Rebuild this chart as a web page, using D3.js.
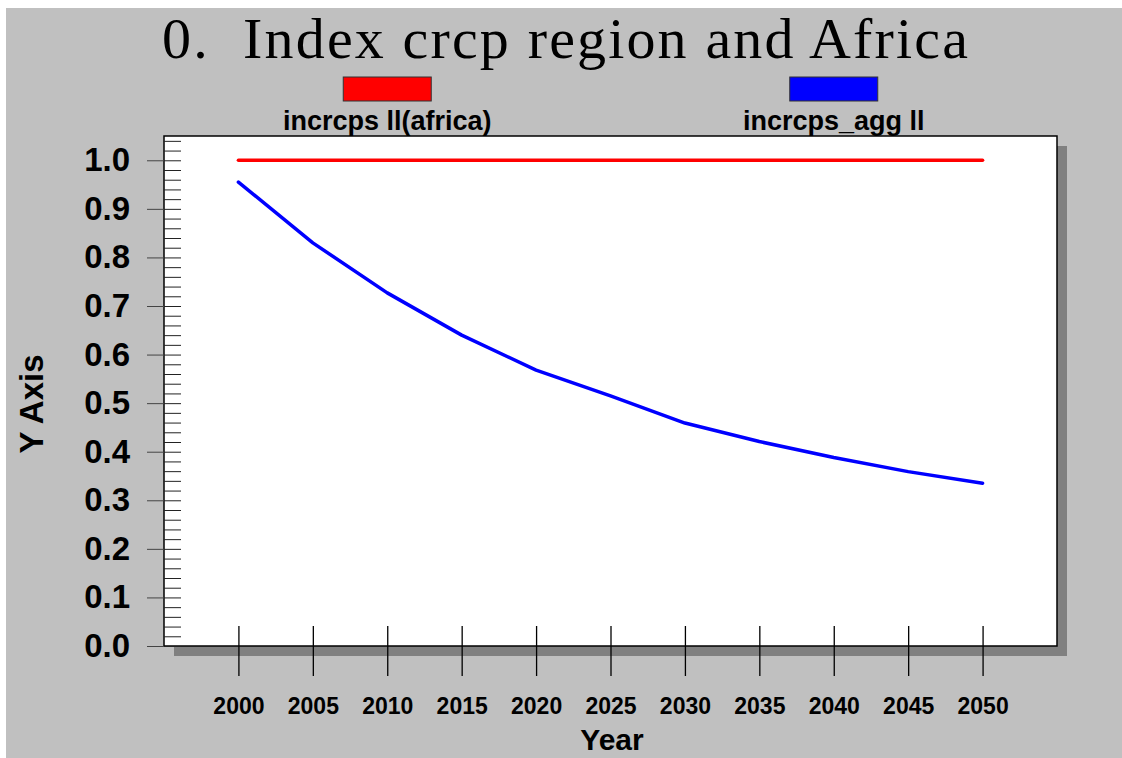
<!DOCTYPE html>
<html>
<head>
<meta charset="utf-8">
<script src="https://cdn.jsdelivr.net/npm/d3@7"></script>
<style>
body { margin: 0; background: #fff; }
svg text { font-family: 'Liberation Sans', Arial, sans-serif; font-weight: bold; fill: #000; }
svg text.title { font-family: 'Liberation Serif', 'Times New Roman', serif; font-weight: normal; white-space: pre; }
</style>
</head>
<body>
<svg></svg>
<script>
const years = [2000, 2005, 2010, 2015, 2020, 2025, 2030, 2035, 2040, 2045, 2050];
const africa = [1, 1, 1, 1, 1, 1, 1, 1, 1, 1, 1];
const agg = [0.955, 0.830, 0.727, 0.640, 0.568, 0.515, 0.459, 0.421, 0.388, 0.359, 0.335];
const seriesNames = ['incrcps ll(africa)', 'incrcps_agg ll'];
const seriesColors = ['#ff0000', '#0000ff'];
const yTicks = [0, 0.1, 0.2, 0.3, 0.4, 0.5, 0.6, 0.7, 0.8, 0.9, 1.0];
const yMinor = d3.range(0, 53).map(d => d / 50);
const titleText = '0.  Index crcp region and Africa';

const width = 1122;
const height = 758;
const plotLeft = 164, plotRight = 1057, plotTop = 136, plotBottom = 646;

const svg = d3.select('svg')
  .attr('width', width)
  .attr('height', height);

// gray page
svg.append('rect')
  .attr('x', 6).attr('y', 8)
  .attr('width', width - 6).attr('height', height - 8)
  .attr('fill', '#c0c0c0');

const x = d3.scaleLinear().domain([1995, 2055]).range([plotLeft, plotRight]);
const y = d3.scaleLinear().domain([0, 1.05]).range([plotBottom, plotTop]);

// title
svg.append('text')
  .attr('class', 'title')
  .attr('x', 565)
  .attr('y', 58)
  .attr('text-anchor', 'middle')
  .attr('font-size', 58)
  .attr('textLength', 806)
  .attr('lengthAdjust', 'spacing')
  .text(titleText);

// legend
seriesNames.forEach((name, i) => {
  const cx = plotLeft + (plotRight - plotLeft) * (i === 0 ? 0.25 : 0.75);
  svg.append('rect')
    .attr('x', cx - 44).attr('y', 77)
    .attr('width', 88).attr('height', 24)
    .attr('fill', seriesColors[i])
    .attr('stroke', '#333')
    .attr('stroke-width', 1);
  svg.append('text')
    .attr('x', cx)
    .attr('y', 130)
    .attr('text-anchor', 'middle')
    .attr('font-size', 27)
    .text(name);
});

// shadow + frame
svg.append('rect')
  .attr('x', plotLeft + 10).attr('y', plotTop + 10)
  .attr('width', plotRight - plotLeft).attr('height', plotBottom - plotTop)
  .attr('fill', '#808080');
svg.append('rect')
  .attr('x', plotLeft).attr('y', plotTop)
  .attr('width', plotRight - plotLeft).attr('height', plotBottom - plotTop)
  .attr('fill', '#fff')
  .attr('stroke', '#000')
  .attr('stroke-width', 1.5);

// minor ticks inside the frame
const minor = svg.append('g')
  .attr('transform', `translate(${plotLeft},0)`)
  .call(d3.axisRight(y).tickValues(yMinor).tickSize(17).tickFormat(''));
minor.select('.domain').remove();
minor.selectAll('line').attr('stroke', '#222');

// series lines
const line = d3.line()
  .x((d, i) => x(years[i]))
  .y(d => y(d));
[africa, agg].forEach((vals, i) => {
  svg.append('path')
    .datum(vals)
    .attr('d', line)
    .attr('fill', 'none')
    .attr('stroke', seriesColors[i])
    .attr('stroke-width', 3.5)
    .attr('stroke-linejoin', 'round')
    .attr('stroke-linecap', 'round');
});

// y axis
const yAxis = svg.append('g')
  .attr('transform', `translate(${plotLeft},0)`)
  .call(d3.axisLeft(y).tickValues(yTicks).tickSize(17).tickPadding(17).tickFormat(d3.format('.1f')));
yAxis.attr('font-size', 33).attr('font-family', null);
yAxis.select('.domain').remove();
yAxis.selectAll('line').attr('stroke', '#444');

// x axis
const xAxis = svg.append('g')
  .attr('transform', `translate(0,${plotBottom})`)
  .call(d3.axisBottom(x).tickValues(years).tickSize(30).tickFormat(d3.format('d')));
xAxis.attr('font-size', 23).attr('font-family', null);
xAxis.select('.domain').remove();
xAxis.selectAll('line').attr('y1', -20).attr('stroke', '#000').attr('stroke-width', 1.3);
xAxis.selectAll('text').attr('y', 68).attr('dy', 0);

// axis titles
svg.append('text')
  .attr('transform', 'translate(43,404) rotate(-90)')
  .attr('text-anchor', 'middle')
  .attr('font-size', 33)
  .text('Y Axis');
svg.append('text')
  .attr('x', 612)
  .attr('y', 750)
  .attr('text-anchor', 'middle')
  .attr('font-size', 30)
  .text('Year');
</script>
</body>
</html>
